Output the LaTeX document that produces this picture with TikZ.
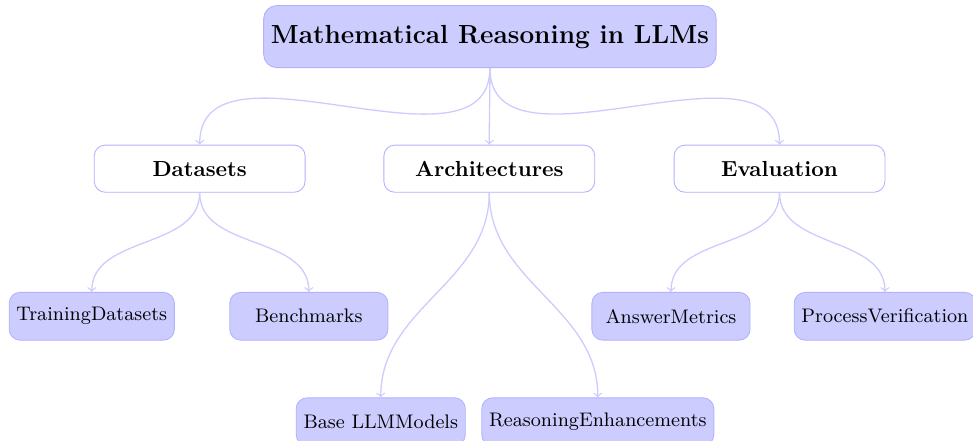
\documentclass[tikz,border=0pt]{standalone}
\usepackage{tikz}
\begin{document}
\begin{tikzpicture}[
		rootbox/.style={draw=blue!30, fill=blue!20, rounded corners=6pt, minimum width=7.29cm, minimum height=1.0cm, font=\large\bfseries},
		catbox/.style={draw=blue!30, fill=white, rounded corners=5pt, minimum width=3.40cm, minimum height=0.76cm, font=\bfseries},
		leafbox/.style={draw=blue!30, fill=blue!20, rounded corners=5pt, minimum width=2.55cm, minimum height=0.77cm, font=\small},
		link/.style={->, draw=blue!20, semithick}]
		\useasboundingbox (0,0) rectangle (15.69,-7.11);
		
		\node[rootbox] (root) at (7.90,-0.59) {Mathematical Reasoning in LLMs};
		
		\node[catbox] (data) at (3.22,-2.72) {Datasets};
		\node[catbox] (arch) at (7.89,-2.72) {Architectures};
		\node[catbox] (eval) at (12.57,-2.72) {Evaluation};
		
		\node[leafbox] (train) at (1.48,-5.10) {TrainingDatasets};
		\node[leafbox] (bench) at (4.98,-5.10) {Benchmarks};
		\node[leafbox] (answer) at (10.82,-5.10) {AnswerMetrics};
		\node[leafbox] (process) at (14.27,-5.10) {ProcessVerification};
		\node[leafbox] (base) at (6.14,-6.80) {Base LLMModels};
		\node[leafbox] (enhance) at (9.64,-6.80) {ReasoningEnhancements};
		
		\draw[link] (root.south) to[out=-90,in=90] (data.north);
		\draw[link] (root.south) to[out=-90,in=90] (arch.north);
		\draw[link] (root.south) to[out=-90,in=90] (eval.north);
		\draw[link] (data.south) to[out=-90,in=90] (train.north);
		\draw[link] (data.south) to[out=-90,in=90] (bench.north);
		\draw[link] (arch.south) to[out=-90,in=90] (base.north);
		\draw[link] (arch.south) to[out=-90,in=90] (enhance.north);
		\draw[link] (eval.south) to[out=-90,in=90] (answer.north);
		\draw[link] (eval.south) to[out=-90,in=90] (process.north);
	\end{tikzpicture}
\end{document}
